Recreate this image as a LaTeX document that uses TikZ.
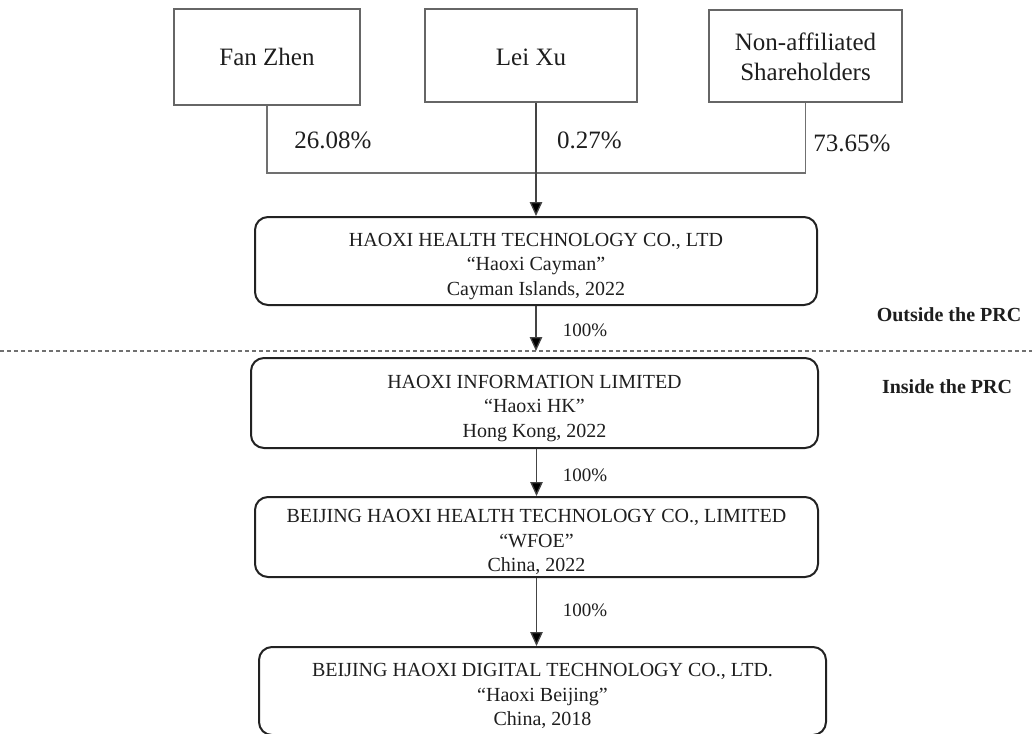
\documentclass[tikz,border=0pt]{standalone}
\usepackage{fontspec}
\setmainfont{Liberation Serif}
\usetikzlibrary{arrows.meta,calc}
\definecolor{boxgray}{HTML}{666666}
\definecolor{linegray}{HTML}{707070}
\definecolor{arrgray}{HTML}{444444}
\definecolor{edge}{HTML}{222222}
\definecolor{txt}{HTML}{1E1E1E}
\newcommand{\toppad}{\rule{0pt}{24pt}}
\begin{document}
\begin{tikzpicture}[x=1pt,y=-1pt,
  topbox/.style={draw=boxgray,line width=1.5pt,inner sep=0pt,align=center,font=\fontsize{25}{30}\selectfont,text=txt},
  entity/.style={draw=edge,line width=2pt,rounded corners=13pt,inner sep=0pt,align=center,font=\fontsize{20}{24.5}\selectfont,text=txt},
  pct/.style={font=\fontsize{25}{30}\selectfont,text=txt,inner sep=0pt},
  share/.style={font=\fontsize{19}{23}\selectfont,text=txt,inner sep=0pt},
  region/.style={font=\bfseries\fontsize{20}{24}\selectfont,text=txt,inner sep=0pt},
  conn/.style={draw=linegray,line width=1.3pt},
  arr/.style={draw=arrgray,line width=1.3pt,-{Triangle[length=14pt,width=12.5pt,fill=black]}},
  divider/.style={draw=linegray,line width=1.3pt,dash pattern=on 4pt off 3pt},
]
\useasboundingbox (0,0) rectangle (1032,733);

% shareholders
\node[topbox,minimum width=186pt,minimum height=96pt] (fan) at (267,57) {Fan Zhen};
\node[topbox,minimum width=212pt,minimum height=93pt] (lei) at (531,55.5) {\rule{0pt}{20pt}Lei Xu};
\node[topbox,minimum width=193pt,minimum height=92pt] (non) at (805.5,56) {\rule{0pt}{20pt}Non-affiliated\\Shareholders};

% entities
\node[entity,minimum width=562pt,minimum height=88pt] (h1) at (536,261)
  {\toppad HAOXI HEALTH TECHNOLOGY CO., LTD\\“Haoxi Cayman”\\Cayman Islands, 2022};
\node[entity,minimum width=567pt,minimum height=90pt] (h2) at (534.5,403)
  {\toppad HAOXI INFORMATION LIMITED\\“Haoxi HK”\\Hong Kong, 2022};
\node[entity,minimum width=563pt,minimum height=80pt] (h3) at (536.5,537)
  {\toppad BEIJING HAOXI HEALTH TECHNOLOGY CO., LIMITED\\“WFOE”\\China, 2022};
\node[entity,minimum width=567pt,minimum height=88pt] (h4) at (542.5,691)
  {\toppad BEIJING HAOXI DIGITAL TECHNOLOGY CO., LTD.\\“Haoxi Beijing”\\China, 2018};

% joint line
\coordinate (j) at (536,173);
\draw[conn] (fan.south) |- (j) -| (non.south);
\draw[arr] (lei.south -| h1.north) -- (h1.north);

% percentages
\node[pct] (p1) at (333,140) {26.08\%};
\node[pct] (p2) at (589.5,140) {0.27\%};
\node[pct] (p3) at (852,143) {73.65\%};

% divider
\coordinate (dl) at (0,351);
\coordinate (dr) at (1032,351);
\draw[divider] (dl) -- (dr);
\coordinate (tip1) at (536,351);

% ownership arrows
\draw[arr] (h1.south) -- (tip1);
\draw[arr] (h2.south -| h3.north) -- (h3.north);
\draw[arr] (h3.south) -- (h3.south |- h4.north);

\node[share] (s1) at (585,330) {100\%};
\node[share] (s2) at (585,475) {100\%};
\node[share] (s3) at (585,610) {100\%};

% region labels
\node[region] (out) at (949,315) {Outside the PRC};
\node[region] (in) at (947,387) {Inside the PRC};
\end{tikzpicture}
\end{document}
